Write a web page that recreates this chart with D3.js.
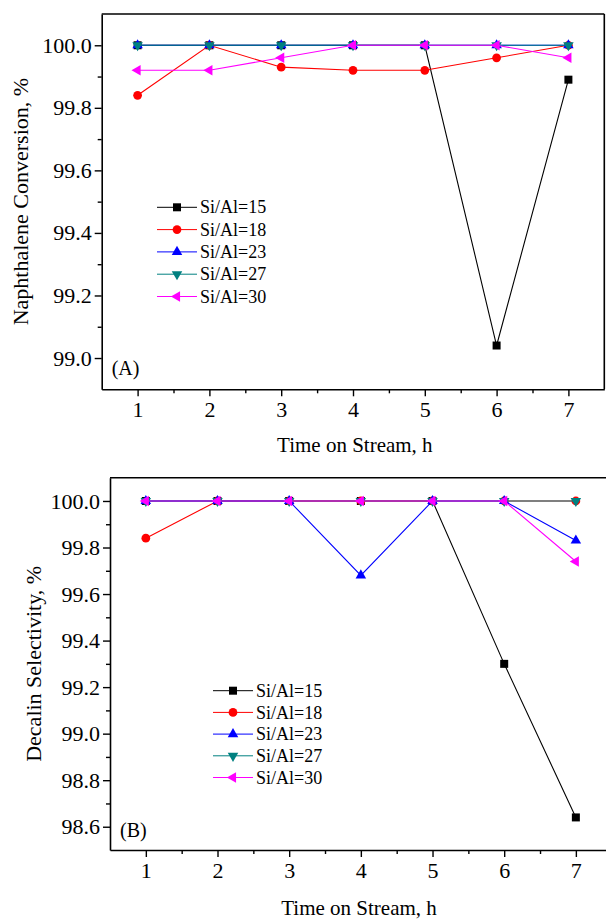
<!DOCTYPE html>
<html>
<head>
<meta charset="utf-8">
<script src="https://cdn.jsdelivr.net/npm/d3@7/dist/d3.min.js"></script>
<style>
  body { margin: 0; background: #fff; }
  svg { display: block; }
  svg text { font-family: "Liberation Serif", "Times New Roman", "DejaVu Serif", serif; fill: #000; }
</style>
</head>
<body>
<div id="chart"></div>
<script>
// Time on stream (h)
const hours = [1, 2, 3, 4, 5, 6, 7];
const seriesNames = ["Si/Al=15", "Si/Al=18", "Si/Al=23", "Si/Al=27", "Si/Al=30"];
const seriesColors = ["#000000", "#ff0000", "#0000ff", "#008080", "#ff00ff"];

// (A) Naphthalene conversion, %
const convSi15 = [100, 100, 100, 100, 100, 99.04, 99.89];
const convSi18 = [99.84, 100, 99.93, 99.92, 99.92, 99.96, 100];
const convSi23 = [100, 100, 100, 100, 100, 100, 100];
const convSi27 = [100, 100, 100, 100, 100, 100, 100];
const convSi30 = [99.92, 99.92, 99.96, 100, 100, 100, 99.96];

// (B) Decalin selectivity, %
const selSi15 = [100, 100, 100, 100, 100, 99.30, 98.64];
const selSi18 = [99.84, 100, 100, 100, 100, 100, 100];
const selSi23 = [100, 100, 100, 99.68, 100, 100, 99.83];
const selSi27 = [100, 100, 100, 100, 100, 100, 100];
const selSi30 = [100, 100, 100, 100, 100, 100, 99.74];

// tick labels
const xTicks = hours;
const xMinor = [1.5, 2.5, 3.5, 4.5, 5.5, 6.5];
const yTicksA = [99.0, 99.2, 99.4, 99.6, 99.8, 100.0];
const yMinorA = [99.1, 99.3, 99.5, 99.7, 99.9];
const yTicksB = [98.6, 98.8, 99.0, 99.2, 99.4, 99.6, 99.8, 100.0];
const yMinorB = [98.7, 98.9, 99.1, 99.3, 99.5, 99.7, 99.9];

const W = 606, H = 919;
const svg = d3.select("#chart").append("svg")
    .attr("width", W)
    .attr("height", H);

svg.append("rect").attr("width", W).attr("height", H).attr("fill", "#fff");

// marker shapes by series
const markerType = [d3.symbolSquare, d3.symbolCircle, d3.symbolTriangle, d3.symbolTriangle, d3.symbolTriangle];
const markerRot = [0, 0, 0, 180, -90];
const markerSize = [64, 60, 48, 48, 48];

function marker(g, i, x, y) {
    g.append("path")
        .attr("d", d3.symbol().type(markerType[i]).size(markerSize[i])())
        .attr("transform", `translate(${x},${y}) rotate(${markerRot[i]})`)
        .attr("fill", seriesColors[i]);
}

function drawPanel(p) {
    const g = svg.append("g");
    const x = d3.scaleLinear().domain([0.5, 7.5]).range([p.left, p.right]);
    const y = d3.scaleLinear().domain(p.yDomain).range([p.bottom, p.top]);

    // series lines + markers
    p.series.forEach((vals, i) => {
        const pts = hours.map((h, j) => [h, vals[j]]);
        g.append("path")
            .datum(pts)
            .attr("fill", "none")
            .attr("stroke", seriesColors[i])
            .attr("stroke-width", 1.1)
            .attr("d", d3.line().x(d => x(d[0])).y(d => y(d[1])));
        pts.forEach(d => marker(g, i, x(d[0]), y(d[1])));
    });

    // frame
    g.append("line").attr("x1", p.left).attr("x2", p.right)
        .attr("y1", p.top).attr("y2", p.top)
        .attr("stroke", "#000").attr("stroke-width", 1.6);
    g.append("line").attr("x1", p.right).attr("x2", p.right)
        .attr("y1", p.top).attr("y2", p.bottom)
        .attr("stroke", "#000").attr("stroke-width", 1.6);

    // x axis
    const xa = g.append("g").attr("transform", `translate(0,${p.bottom})`)
        .call(d3.axisBottom(x).tickValues(xTicks).tickSize(7).tickSizeOuter(0)
            .tickPadding(5).tickFormat(d3.format("d")));
    g.append("g").attr("transform", `translate(0,${p.bottom})`)
        .call(d3.axisBottom(x).tickValues(xMinor).tickSize(4).tickSizeOuter(0).tickFormat(""))
        .select(".domain").remove();

    // y axis
    const ya = g.append("g").attr("transform", `translate(${p.left},0)`)
        .call(d3.axisLeft(y).tickValues(p.yTicks).tickSize(7).tickSizeOuter(0)
            .tickPadding(3).tickFormat(d3.format(".1f")));
    g.append("g").attr("transform", `translate(${p.left},0)`)
        .call(d3.axisLeft(y).tickValues(p.yMinor).tickSize(4).tickSizeOuter(0).tickFormat(""))
        .select(".domain").remove();

    g.selectAll("g").attr("font-family", null);
    g.selectAll(".domain").attr("stroke-width", 1.6);
    g.selectAll(".tick line").attr("stroke-width", 1.4);
    g.selectAll(".tick text").style("font-size", "22px");
    xa.selectAll(".tick text").attr("dy", "0.72em");

    // axis titles
    g.append("text")
        .attr("x", (p.left + Math.min(p.right, 604)) / 2 + 2)
        .attr("y", p.xTitleY)
        .attr("text-anchor", "middle")
        .style("font-size", "21px")
        .text("Time on Stream, h");
    g.append("text")
        .attr("transform", `translate(${p.yTitleX},${(p.top + p.bottom) / 2}) rotate(-90)`)
        .attr("text-anchor", "middle")
        .attr("dy", "0.35em")
        .style("font-size", "22px")
        .text(p.yTitle);

    // panel label
    g.append("text")
        .attr("x", p.left + 10)
        .attr("y", p.labelY)
        .style("font-size", "20px")
        .text(p.label);

    // legend
    const lg = g.append("g");
    seriesNames.forEach((name, i) => {
        const ry = p.legY + i * p.legStep;
        lg.append("line")
            .attr("x1", p.legX).attr("x2", p.legX + 40)
            .attr("y1", ry).attr("y2", ry)
            .attr("stroke", seriesColors[i]).attr("stroke-width", 1);
        marker(lg, i, p.legX + 20, ry);
        lg.append("text")
            .attr("x", p.legX + 43)
            .attr("y", ry)
            .attr("dy", "0.34em")
            .style("font-size", "18px")
            .text(name);
    });
}

drawPanel({
    left: 101.7, right: 604.3, top: 14, bottom: 389.3,
    yDomain: [98.9, 100.1], yTicks: yTicksA, yMinor: yMinorA,
    series: [convSi15, convSi18, convSi23, convSi27, convSi30],
    yTitle: "Naphthalene Conversion, %", yTitleX: 20, xTitleY: 452,
    label: "(A)", labelY: 375,
    legX: 157, legY: 207.3, legStep: 22.3
});

drawPanel({
    left: 110, right: 611.7, top: 477.7, bottom: 850,
    yDomain: [98.5, 100.1], yTicks: yTicksB, yMinor: yMinorB,
    series: [selSi15, selSi18, selSi23, selSi27, selSi30],
    yTitle: "Decalin Selectivity, %", yTitleX: 33, xTitleY: 915,
    label: "(B)", labelY: 837,
    legX: 213, legY: 690.7, legStep: 21.7
});
</script>
</body>
</html>
